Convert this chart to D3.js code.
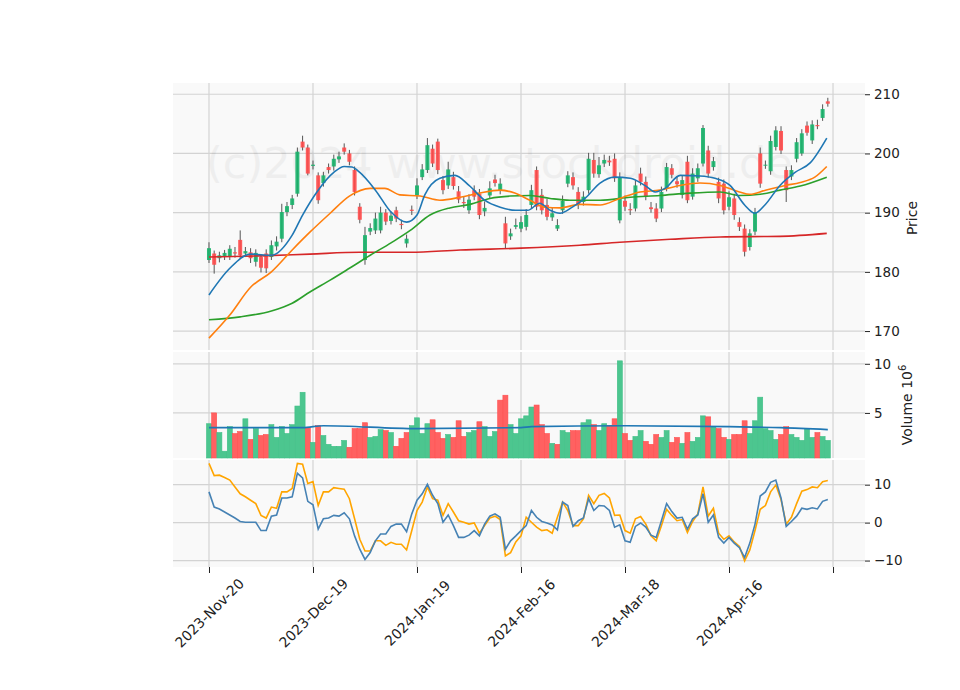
<!DOCTYPE html>
<html>
<head>
<meta charset="utf-8">
<script src="https://cdn.jsdelivr.net/npm/d3@7"></script>
<style>
body { margin: 0; background: #fff; }
svg { font-family: "DejaVu Sans", sans-serif; }
.axis text { font-size: 13px; fill: #222; font-family: "DejaVu Sans", sans-serif; }
</style>
</head>
<body>
<svg id="chart" width="960" height="690"></svg>
<script>
// daily candles, index 0 = 2023-Nov-20
var opens = [182,183.1,182.3,182.6,182.6,183.3,185.4,183.1,183.3,181.7,182.5,183.1,182.5,184.3,185.6,190.1,191.3,193.2,202,201,
  197.9,196.3,195,197.7,197.8,199,201,200,197.2,191,182,186.8,187,187,190,188.6,190.4,188.1,184.8,190.5,
  192.9,196,197.2,200.8,202,195.5,194.6,196,193.6,191.8,190.4,193.8,193.2,190.2,192.9,195.6,193.8,188.2,186,187.6,
  187.3,187.6,191.3,197.2,193,191.3,189.2,187.3,190.4,194.9,196,193.5,191.8,193.8,198.9,196.5,198.3,198.8,199.1,188.7,
  192,190.6,190.7,196.6,195.2,190.9,190.7,190.7,194.1,197.5,195.3,193,198.6,192.7,195.8,198.3,200.5,197.7,195.2,194.9,
  191,192.4,188.4,187.3,184.2,186.8,200,198,197,201.1,203.8,197.2,196.1,199.1,200,204.7,202.2,204.8,206,208.8];
var closes = [184,181.2,182.8,183.2,183.9,183.1,182.8,183.5,182.3,183.2,180.7,180.6,184.5,185.1,190.1,191.1,192.4,200.3,201,196.6,
  198.1,192.1,196.3,197.2,199.1,199.5,200.3,198.6,193.5,188.8,186.2,187.4,189,190,188.5,189.5,189,187.9,185.6,190.3,
  194.6,197.3,201.4,198.3,197.2,193.8,197.3,194.5,192.2,191.6,192.2,192.7,189.6,190.8,194.1,195,194.9,184.8,186.5,187.9,
  188.4,189.6,193.8,191,190.4,189.3,189.9,187.9,192,196.3,194.6,191.3,192.7,199.1,196.6,198,198.9,198.5,195.8,195.9,
  191,190.4,194.6,195.2,192.7,190.6,189,193.5,197.7,196.4,194.8,195.5,192.1,196.6,197.5,204.3,196.6,198.7,192.4,190.4,
  192.6,189.6,187.6,183.4,186.5,190.1,194.9,198.1,202.1,203.9,200.5,193.8,197.2,201.9,203.4,203.5,204.9,204.6,207.5,208.4];
var highs = [185,183.6,183.4,183.7,184.5,184.2,187,184.2,184,183.8,182.9,183.8,185.3,186,191.5,191.8,193,201,203,201.5,
  198.8,196.8,196.9,198.3,199.8,200.3,201.7,200.6,197.8,191.6,187.6,188.2,190,191,190.6,190.2,191,188.8,186.3,191.2,
  195.8,198.2,202.6,201.5,202.5,196.2,198.6,196.9,194.5,192.8,193.1,194.6,194,191.9,195.3,196.4,195.8,189.3,187.3,189,
  189.4,190.6,194.7,197.8,194,192.3,190.8,188.9,192.9,197,196.8,194.3,193.6,200.1,200.1,199.4,199.8,199.6,200,196.8,
  192.9,191.6,195.5,197.6,196.1,191.8,191.6,194.4,198.4,198.2,196.2,196.3,199.6,197.5,198.3,204.8,201.3,199.4,195.9,195.6,
  193.6,193.2,189.2,188,187.2,190.8,201,198.8,203,204.6,204.6,197.8,198,202.6,204.1,205.4,205.6,205.7,208.3,209.4];
var lows = [181.5,179.7,181.6,182,182,182.4,182.2,182.5,181.5,180.9,179.9,179.8,182,183.6,185,189.4,190.6,192.7,200.5,196.3,
  197.3,191.5,194.4,196.6,197.1,198.4,199.8,198,192.9,188.2,181.2,186.2,186.4,186.5,187.9,188,188.4,187.2,184.1,189.6,
  192.3,195.5,196.7,197.7,196.5,193.1,194,193.9,191.6,190.8,189.8,192.1,188.9,189.4,192.3,194.4,193.1,184,185.4,187.2,
  186.7,187,190.7,190.4,189.7,188.7,188.6,186.9,189.8,194.3,193.9,190.6,191.2,193.2,195.9,195.9,197.7,197.9,195.2,188.2,
  190.3,189.6,190.2,194.6,192.1,190,188.4,190.1,193.6,195.8,194.2,192.4,191.6,192.2,195.2,197.8,195.9,197.1,191.6,189.7,
  190.4,188.8,186.9,182.6,183.6,186.2,194.2,197.4,196.4,200.5,199.9,191.8,195.5,198.5,199.6,203,201.6,204.1,205.5,207.9];
var volumes = [3.9,5.0,3.0,1.1,3.6,2.9,3.1,4.4,2.3,3.4,2.7,2.8,3.8,2.5,3.6,2.9,3.8,5.7,7.1,3.5,
  2.0,3.7,2.7,1.8,1.6,1.6,2.2,1.5,3.4,3.4,4.0,2.5,2.6,3.3,3.2,3.0,1.6,2.4,3.0,3.7,
  4.5,2.9,3.9,4.3,3.0,2.4,2.8,2.5,4.2,2.6,3.0,3.2,4.1,3.6,2.6,3.1,6.3,6.8,3.8,2.9,
  4.4,4.7,5.6,5.8,3.8,2.9,1.9,1.8,3.2,3.0,3.2,3.2,4.0,4.3,3.8,3.2,3.9,3.7,4.4,10.3,
  2.9,2.2,2.6,3.2,2.1,1.8,2.8,2.5,3.2,2.0,2.5,1.9,3.0,2.1,2.5,4.7,4.6,3.6,3.4,2.5,
  2.3,2.8,2.8,4.2,2.9,4.2,6.6,3.4,3.2,2.3,2.8,3.6,2.8,2.5,2.2,3.4,2.5,3.0,2.6,2.2];

// moving averages, read as [bar index, value]
var maBlue = [[0,176.1],[4,180.6],[8,183],[12,182.8],[16,186.2],[18,189.6],[21,193.8],[24,196.8],[26,197.8],[27.5,197.7],
  [29,196.8],[32,193.8],[35,190.1],[38,188.4],[40,189.6],[41.5,193],[44.4,195.8],[47.3,196.3],[50,194.6],[53,192.1],
  [56,190.9],[59,190.4],[61.3,190.4],[63.6,191.6],[65.6,190.4],[67.5,189.9],[69.8,190.9],[72.3,192.4],[75.2,195],[78,196],
  [81,195.8],[83.8,194.6],[85.8,193.5],[87.7,194.1],[90.6,196.3],[94.4,196.2],[97.3,195.8],[100.2,194.6],[103,191.3],
  [105,189.9],[106.9,191.3],[109.8,194.6],[112.7,196.8],[115.6,198.4],[118.8,202.6]];
var maOrange = [[0,168.8],[4,172.7],[8,177.4],[12,180],[16,183.7],[19.4,186.7],[23.3,189.9],[27,192.8],[31,194.1],[33.8,194.1],
  [36.7,193],[40.6,192.8],[44.4,192.1],[48.3,192.6],[52,193.3],[56,193.8],[58.8,193.3],[61.7,192.1],[64.6,190.9],[67.5,190.8],
  [71.3,191.4],[75.2,191.3],[79,192.4],[82.9,193.5],[86.7,193.8],[90.6,194.6],[94.4,195],[98.3,194.6],[102,193.5],[104,193.1],
  [107,193.8],[110.8,194.6],[113.7,195.1],[116.5,196],[118.8,197.8]];
var maGreen = [[0,171.9],[6,172.4],[12,173.4],[16,174.7],[19.4,176.6],[23.3,178.6],[27,180.6],[31,182.8],[35,184.9],[38.7,187],
  [42.5,189.6],[46.3,190.8],[50.2,191.4],[54,192.4],[57.9,192.8],[61.7,192.9],[65.6,192.4],[69.4,192.1],[75.2,192.1],[81,192.6],
  [86.7,192.9],[92.5,193.3],[98.3,193.5],[102,192.9],[106,193.1],[109.8,193.8],[113.7,194.5],[118.8,196]];
var maRed = [[0,182.5],[10,182.7],[19.4,183],[29,183.3],[38.7,183.3],[48.3,183.7],[60,184],[71.3,184.5],[79,185],
  [88.7,185.5],[98.3,185.9],[109.8,186],[118.8,186.5]];
var volMa = [[0,3.5],[18,3.5],[22,3.7],[40,3.4],[60,3.5],[62,3.6],[80,3.7],[100,3.6],[110,3.5],[119,3.3]];

// oscillator lines, one value per bar
var oscBlue = [8.1,4.1,3.6,2.8,2.0,1.2,0.3,0.1,0.1,0.1,-2.1,-2.1,1.7,2.0,6.5,6.5,6.8,13,11.8,5.6,
  4.7,-1.7,1.0,1.2,1.9,1.7,2.6,1.0,-3.5,-7.0,-9.7,-7.9,-4.8,-3.0,-3.0,-1.0,-0.4,-0.4,-2.4,2.3,
  5.9,7.6,10.1,7.2,5.0,0.1,2.0,-0.8,-3.9,-3.9,-3.3,-2.1,-3.5,-0.4,1.7,2.3,1.4,-7.0,-4.8,-3.5,
  -2.1,-0.8,3.2,1.4,0.3,-0.1,-0.6,-1.9,5.4,4.5,-1.0,0.5,1.2,6.3,3.2,4.5,4.4,3.2,-1.2,-0.6,
  -4.8,-5.2,-1.0,-0.1,-1.2,-3.3,-3.9,0.5,5.0,2.9,1.2,1.4,-1.7,1.0,2.0,7.6,0.1,2.0,-3.9,-5.4,
  -3.9,-5.4,-6.6,-9.2,-5.4,-0.4,7.0,8.1,10.6,11.2,6.5,-1.0,0.3,1.7,3.8,3.5,3.9,3.6,5.6,6.1];
var oscOrange = [15.6,12.4,12.5,11.9,11.2,9.4,7.6,6.8,5.9,5.0,1.9,1.2,4.1,3.8,8.1,8.1,9.0,15.6,15.4,10.3,
  10.8,4.5,8.1,8.1,9.2,9.0,8.8,6.3,1.0,-4.4,-7.5,-7.5,-4.8,-4.8,-6.0,-5.2,-5.7,-5.7,-7.2,-2.1,
  3.2,5.4,9.4,6.3,5.9,1.9,5.0,2.8,0.5,0.1,-0.4,-0.1,-2.8,-0.8,1.2,1.7,0.8,-8.8,-7.9,-5.1,
  -3.5,1.4,0.1,-1.2,-2.1,-1.9,-2.8,1.4,5.4,3.2,-0.8,-0.8,1.0,7.2,5.0,7.2,7.7,6.5,1.9,2.0,
  -2.1,-2.8,1.0,1.6,-0.4,-3.5,-4.8,-0.8,3.5,1.9,0.5,0.8,-2.6,0.3,2.3,9.4,1.7,3.8,-2.8,-4.4,
  -3.5,-5.1,-6.3,-10.1,-7.2,-2.1,3.5,4.5,8.1,9.9,6.1,-0.4,1.4,5.0,8.3,8.7,9.4,9.2,10.8,11.1];

var tickIdx = [0, 20, 40, 60, 80, 100, 120];
var tickLabels = ["2023-Nov-20", "2023-Dec-19", "2024-Jan-19", "2024-Feb-16", "2024-Mar-18", "2024-Apr-16", ""];
var priceTicks = [170, 180, 190, 200, 210];
var volTicks = [5, 10];
var oscTicks = [-10, 0, 10];

var svg = d3.select('#chart');
var left = 173, right = 865;
var x = d3.scaleLinear().domain([-6.92, 126.15]).range([left, right]);

var panels = [
  { top: 83, bottom: 350 },
  { top: 352, bottom: 458 },
  { top: 460, bottom: 567 }
];
var yP = d3.scaleLinear().domain([166.8, 211.9]).range([350, 83]);
var yV = d3.scaleLinear().domain([0.41, 11.2]).range([458, 352]);
var yO = d3.scaleLinear().domain([-11.7, 16.5]).range([567, 460]);

function panelBg(p, ys, ticks) {
  var g = svg.append('g');
  g.append('rect').attr('x', left).attr('y', p.top).attr('width', right - left).attr('height', p.bottom - p.top)
    .attr('fill', '#f9f9f9');
  g.selectAll('.vg').data(tickIdx).enter().append('line')
    .attr('x1', d => x(d)).attr('x2', d => x(d)).attr('y1', p.top).attr('y2', p.bottom)
    .attr('stroke', '#d3d3d3').attr('stroke-width', 1.2);
  g.selectAll('.hg').data(ticks).enter().append('line')
    .attr('x1', left).attr('x2', right).attr('y1', d => ys(d)).attr('y2', d => ys(d))
    .attr('stroke', '#d3d3d3').attr('stroke-width', 1.2);
  var ax = svg.append('g').attr('class', 'axis').attr('transform', 'translate(' + right + ',0)')
    .call(d3.axisRight(ys).tickValues(ticks).tickSize(5).tickPadding(4).tickFormat(d => d < 0 ? '\u2212' + (-d) : d));
  ax.select('.domain').remove();
  ax.selectAll('line').attr('stroke', '#222');
  ax.selectAll('text').style('font-size', '13.5px');
}
panelBg(panels[0], yP, priceTicks);
panelBg(panels[1], yV, volTicks);
panelBg(panels[2], yO, oscTicks);

// watermark
svg.append('text').attr('x', 206).attr('y', 178).attr('font-size', 43).attr('fill', '#000').attr('opacity', 0.04)
  .text('(c)2024 www.stockdroid.de');

// candles
var upC = '#17b26a', dnC = '#ff4a4a';
var cw = 4;
var cg = svg.append('g');
cg.selectAll('.wick').data(closes).enter().append('line')
  .attr('x1', (d, i) => x(i)).attr('x2', (d, i) => x(i))
  .attr('y1', (d, i) => yP(highs[i])).attr('y2', (d, i) => yP(lows[i]))
  .attr('stroke', '#555').attr('stroke-width', 1);
cg.selectAll('.body').data(closes).enter().append('rect')
  .attr('x', (d, i) => x(i) - cw / 2).attr('width', cw)
  .attr('y', (d, i) => yP(Math.max(d, opens[i])))
  .attr('height', (d, i) => Math.max(1, Math.abs(yP(d) - yP(opens[i]))))
  .attr('fill', (d, i) => d >= opens[i] ? upC : dnC).attr('fill-opacity', 0.9);

var line = (ys) => d3.line().x(d => x(d[0])).y(d => ys(d[1])).curve(d3.curveMonotoneX);
[[maRed, '#d62728'], [maGreen, '#2ca02c'], [maOrange, '#ff7f0e'], [maBlue, '#1f77b4']].forEach(function (m) {
  svg.append('path').datum(m[0]).attr('d', line(yP)).attr('fill', 'none').attr('stroke', m[1]).attr('stroke-width', 1.6);
});

// volume
var vw = 5;
svg.append('g').selectAll('rect').data(volumes).enter().append('rect')
  .attr('x', (d, i) => x(i) - vw / 2).attr('width', vw)
  .attr('y', d => yV(d)).attr('height', d => yV(0.41) - yV(d))
  .attr('fill', (d, i) => (i == 0 || closes[i] >= closes[i - 1]) ? '#4cc68f' : '#ff6161')
  .attr('stroke', (d, i) => (i == 0 || closes[i] >= closes[i - 1]) ? '#3fbf86' : '#ff4d4d').attr('stroke-width', 0.6);
svg.append('path').datum(volMa).attr('d', line(yV)).attr('fill', 'none').attr('stroke', '#1f77b4').attr('stroke-width', 1.6);

// oscillator
var oline = d3.line().x((d, i) => x(i)).y(d => yO(d));
svg.append('path').datum(oscOrange).attr('d', oline).attr('fill', 'none').attr('stroke', '#ffa500').attr('stroke-width', 1.6);
svg.append('path').datum(oscBlue).attr('d', oline).attr('fill', 'none').attr('stroke', '#4682b4').attr('stroke-width', 1.6);

// x axis
var xa = svg.append('g').attr('class', 'axis').attr('transform', 'translate(0,567)')
  .call(d3.axisBottom(x).tickValues(tickIdx).tickSize(6).tickFormat((d, i) => tickLabels[i]));
xa.select('.domain').remove();
xa.selectAll('line').attr('stroke', '#222');
xa.selectAll('text').style('font-size', '14px').attr('text-anchor', 'middle').attr('y', 0).attr('dy', '0.35em')
  .attr('transform', 'translate(0,46) rotate(-45)');

// axis labels
svg.append('text').attr('transform', 'translate(917,218) rotate(-90)').attr('text-anchor', 'middle')
  .attr('font-size', 14).attr('fill', '#222').text('Price');
var vl = svg.append('text').attr('transform', 'translate(912,405) rotate(-90)').attr('text-anchor', 'middle')
  .attr('font-size', 14).attr('fill', '#222');
vl.append('tspan').text('Volume  10');
vl.append('tspan').attr('dy', -6).attr('font-size', 10).text('6');
</script>
</body>
</html>
